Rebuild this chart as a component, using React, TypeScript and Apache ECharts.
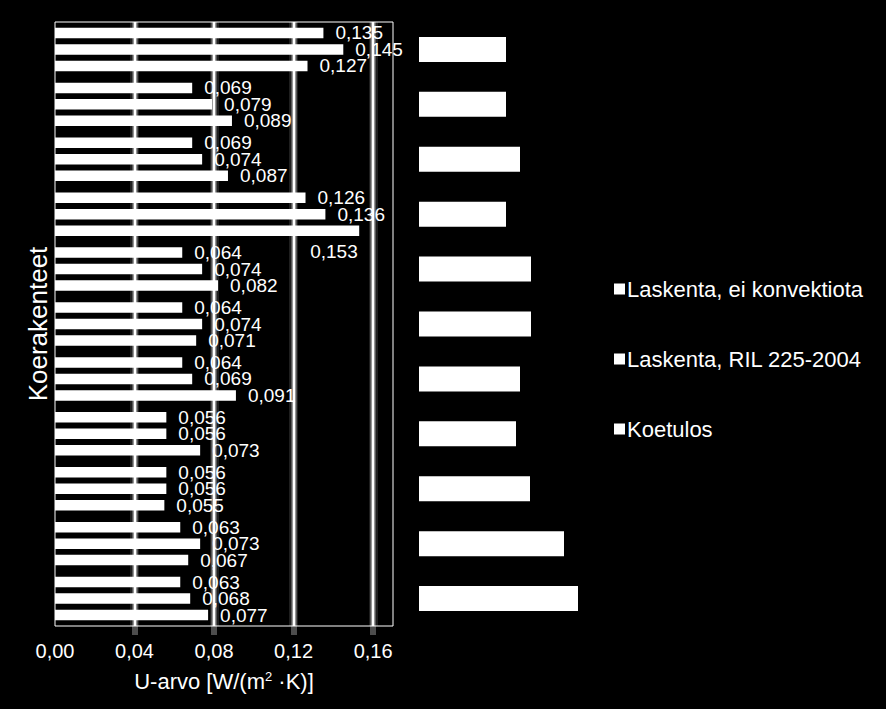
import React, { useEffect, useRef } from "react";
import * as echarts from "echarts";

const categories = ["1", "2", "3", "4", "5", "6", "7", "8", "9", "10", "11"];
const seriesNames = ["Laskenta, ei konvektiota", "Laskenta, RIL 225-2004", "Koetulos"];
const eiKonvektiota = [0.135, 0.069, 0.069, 0.126, 0.064, 0.064, 0.064, 0.056, 0.056, 0.063, 0.063];
const ril = [0.145, 0.079, 0.074, 0.136, 0.074, 0.074, 0.069, 0.056, 0.056, 0.073, 0.068];
const koetulos = [0.127, 0.089, 0.087, 0.153, 0.082, 0.071, 0.091, 0.073, 0.055, 0.067, 0.077];
const majorTicks = [0.04, 0.08, 0.12, 0.16];
// redacted category label boxes (widths in px)
const labelBoxWidths = [87, 87, 101, 87, 112, 112, 101, 97, 111, 145, 159];

const FONT = "'Liberation Sans', Arial, sans-serif";
const fmt = (v: number) => v.toFixed(3).replace(".", ",");

const glowLayers = [
  { width: 9, color: "rgba(255,255,255,0.12)" },
  { width: 6, color: "rgba(255,255,255,0.25)" },
  { width: 3.5, color: "rgba(255,255,255,0.5)" },
  { width: 2, color: "#ffffff" },
];

export default function App() {
  const ref = useRef<HTMLDivElement>(null);
  useEffect(() => {
    if (!ref.current) return;
    const chart = echarts.init(ref.current, null, { renderer: "svg" });
    const barSeries = [eiKonvektiota, ril, koetulos].map((arr, si) => ({
      name: seriesNames[si],
      type: "bar",
      z: 10,
      barWidth: 10.5,
      barGap: "57%",
      itemStyle: { color: "#ffffff" },
      label: {
        show: true,
        position: "right",
        distance: 12,
        color: "#ffffff",
        fontSize: 19,
        fontFamily: FONT,
        formatter: (p: any) => fmt(p.value),
      },
      data: arr.map((v, i) =>
        si === 2 && i === 3 ? { value: v, label: { offset: [-61, 21] } } : v
      ),
    }));
    const glowSeries = glowLayers.map((g, gi) => ({
      name: "glow" + gi,
      type: "line",
      data: [],
      z: 1,
      markLine: {
        z: 1,
        silent: true,
        symbol: "none",
        label: { show: false },
        lineStyle: { color: g.color, width: g.width, type: "solid" },
        data: majorTicks.map((v) => ({ xAxis: v })),
      },
    }));
    chart.setOption({
      animation: false,
      backgroundColor: "#000000",
      textStyle: { fontFamily: FONT },
      grid: {
        left: 55,
        top: 22,
        right: 493,
        bottom: 83,
        show: true,
        borderColor: "#ffffff",
        borderWidth: 1,
        backgroundColor: "transparent",
      },
      legend: {
        data: seriesNames,
        orient: "vertical",
        left: 609,
        top: 273,
        itemWidth: 11,
        itemHeight: 11,
        itemGap: 48,
        icon: "rect",
        textStyle: { color: "#ffffff", fontSize: 22, fontFamily: FONT, lineHeight: 22, padding: [0, 0, 0, -3] },
      },
      xAxis: {
        type: "value",
        min: 0,
        max: 0.17,
        interval: 0.01,
        axisLine: { show: false },
        axisTick: {
          show: true,
          customValues: majorTicks,
          length: 9,
          lineStyle: { color: "rgba(255,255,255,0.3)", width: 6 },
        },
        splitLine: { show: true, lineStyle: { color: "#ffffff", width: 1 } },
        axisLabel: {
          color: "#ffffff",
          fontSize: 20,
          fontFamily: FONT,
          margin: 15,
          showMaxLabel: false,
          formatter: (v: number) =>
            Math.round(v * 100) % 4 === 0 ? v.toFixed(2).replace(".", ",") : "",
        },
        name: "U-arvo [W/(m{sup|2} ·K)]",
        nameLocation: "middle",
        nameGap: 44,
        nameTextStyle: {
          color: "#ffffff",
          fontSize: 22,
          fontFamily: FONT,
          rich: {
            sup: { fontSize: 13, color: "#ffffff", fontFamily: FONT, verticalAlign: "top", lineHeight: 13, padding: [0, 0, 10, 0] },
          },
        },
      },
      yAxis: {
        type: "category",
        data: categories,
        inverse: true,
        axisLine: { show: false },
        axisTick: { show: false },
        axisLabel: { show: false },
        splitLine: { show: false },
        name: "Koerakenteet",
        nameLocation: "middle",
        nameRotate: 90,
        nameGap: 4,
        nameTextStyle: { color: "#ffffff", fontSize: 26, fontFamily: FONT },
      },
      series: [...glowSeries, ...barSeries],
    });
    const graphics = categories.map((c, i) => {
      const yc = chart.convertToPixel({ yAxisIndex: 0 }, c) as number;
      return {
        type: "rect",
        shape: { x: 419, y: yc - 12.5, width: labelBoxWidths[i], height: 25 },
        style: { fill: "#ffffff" },
      };
    });
    chart.setOption({ graphic: graphics });
    return () => chart.dispose();
  }, []);
  return (
    <div
      ref={ref}
      style={{ position: "absolute", left: 0, top: 0, width: 886, height: 709 }}
    />
  );
}
